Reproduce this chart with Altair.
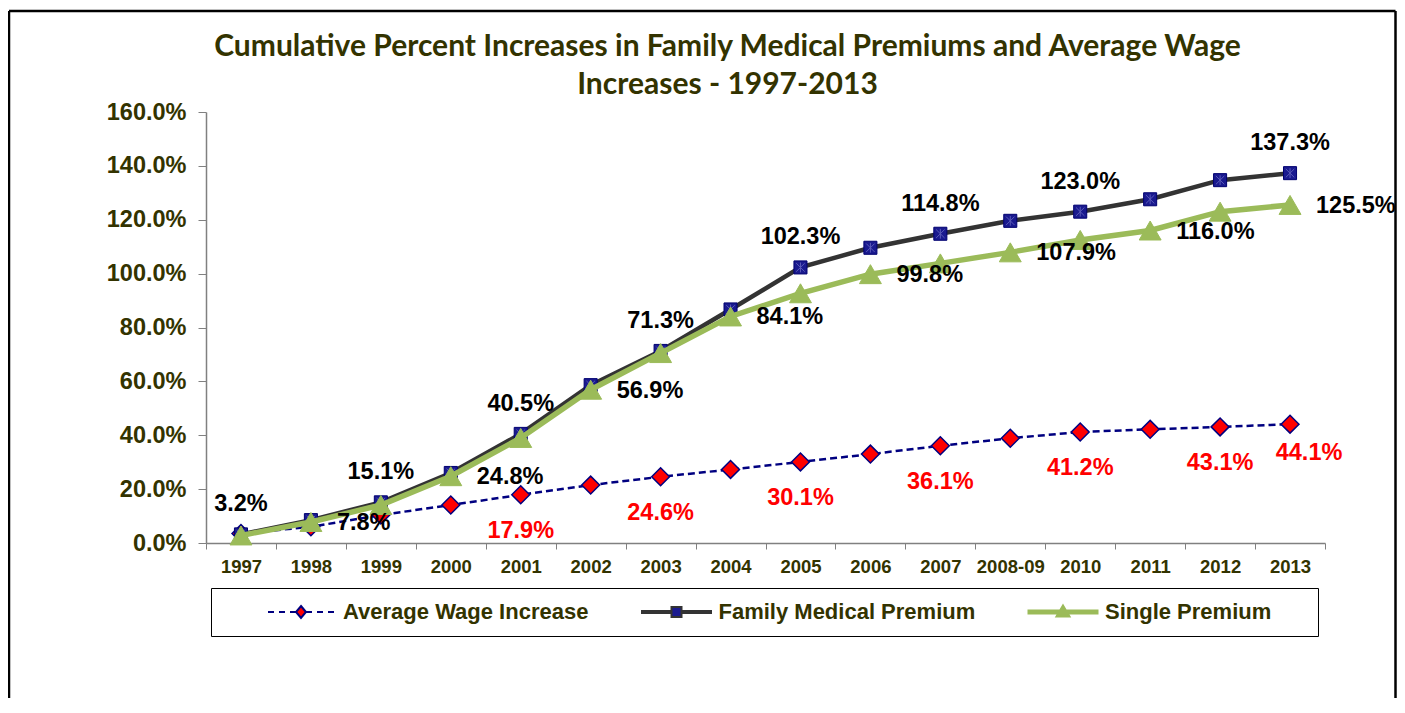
import altair as alt
import pandas as pd

years = ["1997", "1998", "1999", "2000", "2001", "2002", "2003", "2004", "2005",
         "2006", "2007", "2008-09", "2010", "2011", "2012", "2013"]
wage = [3.5, 6.0, 10.4, 14.1, 17.9, 21.5, 24.6, 27.3, 30.1, 33.0, 36.1, 38.9, 41.2, 42.2, 43.1, 44.1]
family = [3.2, 8.5, 15.1, 26.0, 40.5, 58.6, 71.3, 86.7, 102.3, 109.6, 114.8, 119.6, 123.0, 127.6, 134.7, 137.3]
single = [2.8, 7.8, 14.1, 24.8, 39.0, 56.9, 70.5, 84.1, 92.7, 99.8, 103.8, 107.9, 112.5, 116.0, 123.0, 125.5]

series_names = ["Average Wage Increase", "Family Medical Premium", "Single Premium"]
wage_label_years = ["2001", "2003", "2005", "2007", "2010", "2012", "2013"]
family_label_years = ["1997", "1999", "2001", "2003", "2005", "2007", "2010", "2013"]
single_label_years = ["1998", "2000", "2002", "2004", "2006", "2008-09", "2011", "2013"]
y_ticks = [0, 20, 40, 60, 80, 100, 120, 140, 160]
title_lines = ["Cumulative Percent Increases in Family Medical Premiums and Average Wage",
               "Increases - 1997-2013"]

rows = []
for name, vals, labs in zip(series_names, [wage, family, single],
                            [wage_label_years, family_label_years, single_label_years]):
    for yr, v in zip(years, vals):
        rows.append({"year": yr, "series": name, "value": v, "show": yr in labs})
df = pd.DataFrame(rows)

OLIVE = "#333300"
FONT = "Liberation Sans"

x_enc = alt.X("year:N", sort=years,
              scale=alt.Scale(type="band", paddingInner=0, paddingOuter=0),
              axis=alt.Axis(title=None, labelAngle=0, tickBand="extent", tickSize=6,
                            labelPadding=8, labelFont=FONT, labelFontSize=18.5,
                            labelFontWeight="bold", labelColor=OLIVE, domainColor="#808080",
                            tickColor="#808080", domainWidth=1.5, grid=False))
y_enc = alt.Y("value:Q", scale=alt.Scale(domain=[0, 160], nice=False),
              axis=alt.Axis(title=None, values=y_ticks, tickSize=8, labelPadding=12,
                            labelExpr="format(datum.value, '.1f') + '%'",
                            labelFont=FONT, labelFontSize=23.5, labelFontWeight="bold",
                            labelColor=OLIVE, domainColor="#808080", tickColor="#808080",
                            domainWidth=1.5, grid=False))

base = alt.Chart(df).encode(x=x_enc, y=y_enc)


def only(name):
    return base.transform_filter(alt.datum.series == name)


wage_line = only(series_names[0]).mark_line(color="#000080", strokeWidth=2.5, strokeDash=[7, 4])
wage_pts = only(series_names[0]).mark_point(shape="diamond", filled=True, fill="#FF0000",
                                            stroke="#000080", strokeWidth=1.5, size=320, opacity=1)
fam_line = only(series_names[1]).mark_line(color="#333333", strokeWidth=4.5)
fam_pts = only(series_names[1]).mark_point(shape="square", filled=True, fill="#1A1A8F",
                                           stroke="#000070", strokeWidth=1, size=170, opacity=1)
fam_star = only(series_names[1]).mark_point(
    shape="M-0.65,-0.65L0.65,0.65M-0.65,0.65L0.65,-0.65M0,-0.75L0,0.75",
    filled=False, stroke="#5A5AB8", strokeWidth=1, size=170, opacity=1)
sin_line = only(series_names[2]).mark_line(color="#9BBB59", strokeWidth=5.5)
sin_pts = only(series_names[2]).mark_point(shape="triangle-up", filled=True, fill="#9BBB59",
                                           stroke="#9BBB59", strokeWidth=1, size=480, opacity=1)


def labels(expr):
    return (base.transform_filter(expr)
            .transform_calculate(label="format(datum.value, '.1f') + '%'"))


text_style = dict(font=FONT, fontSize=23.5, fontWeight="bold")
fam_txt = labels(f"datum.series == '{series_names[1]}' && datum.show").mark_text(
    align="center", baseline="alphabetic", dy=-23, color="#000000", **text_style).encode(text="label:N")
sin_txt = labels(f"datum.series == '{series_names[2]}' && datum.show").mark_text(
    align="left", baseline="middle", dx=26, dy=1, color="#000000", **text_style).encode(text="label:N")
wage_txt = labels(f"datum.series == '{series_names[0]}' && datum.show && datum.year != '{years[-1]}'").mark_text(
    align="center", baseline="alphabetic", dy=43, color="#FF0000", **text_style).encode(text="label:N")
wage_txt_last = labels(f"datum.series == '{series_names[0]}' && datum.year == '{years[-1]}'").mark_text(
    align="center", baseline="alphabetic", dx=19, dy=36, color="#FF0000", **text_style).encode(text="label:N")

# legend symbols: line + marker drawn as custom paths (unit = sqrt(size)/2 px)
legend_paths = [
    "M-16,0M47.6,0M-6.6,0L-5.4,0M-4.4,0L-3.2,0M-2.2,0L-1.1,0M1.1,0L2.2,0M3.2,0L4.4,0M5.4,0L6.6,0"
    "M0,-1.2L1,0L0,1.2L-1,0Z",
    "M-16,0M47.6,0M-7.1,-0.2L-1,-0.2M-7.1,0L-1,0M-7.1,0.2L-1,0.2"
    "M1,-0.2L7.1,-0.2M1,0L7.1,0M1,0.2L7.1,0.2M-1,-1L1,-1L1,1L-1,1Z",
    "M-16,0M47.6,0M-7.1,-0.3L7.1,-0.3M-7.1,0L7.1,0M-7.1,0.3L7.1,0.3M0,-1.3L1.3,0.9L-1.3,0.9Z",
]
legend_fills = ["#FF0000", "#1A1A8F", "#9BBB59"]
legend_strokes = ["#000080", "#333333", "#9BBB59"]

leg = alt.Legend(title=None, orient="none", legendX=5, legendY=476, direction="horizontal",
                 strokeColor="#000000", fillColor="#FFFFFF", padding=13, columnPadding=3.5,
                 symbolSize=100, symbolStrokeWidth=2, symbolOffset=66, labelOffset=31,
                 labelFont=FONT, labelFontSize=22, labelFontWeight="bold", labelColor=OLIVE,
                 labelLimit=500)

legend_layer = base.transform_filter("datum.value < -1000").mark_point(
    filled=True, size=100, strokeWidth=2, opacity=1).encode(
    shape=alt.Shape("series:N", scale=alt.Scale(domain=series_names, range=legend_paths), legend=leg),
    fill=alt.Fill("series:N", scale=alt.Scale(domain=series_names, range=legend_fills), legend=leg),
    stroke=alt.Stroke("series:N", scale=alt.Scale(domain=series_names, range=legend_strokes), legend=leg),
)

frame_df = pd.DataFrame({"k": [0]})
frame = alt.Chart(frame_df)
left_edge = frame.mark_rule(color="#000000", strokeWidth=2.5).encode(
    x=alt.value(-197), y=alt.value(-101), y2=alt.value(586))
right_edge = frame.mark_rule(color="#000000", strokeWidth=2.5).encode(
    x=alt.value(1189.5), y=alt.value(-101), y2=alt.value(586))
top_edge = frame.mark_rule(color="#000000", strokeWidth=2.5).encode(
    x=alt.value(-197), x2=alt.value(1189.5), y=alt.value(-101))

chart = alt.layer(
    wage_line, wage_pts, fam_line, fam_pts, fam_star, sin_line, sin_pts,
    fam_txt, sin_txt, wage_txt, wage_txt_last, legend_layer, left_edge, right_edge, top_edge,
).properties(
    width=1119, height=431,
    padding={"left": 198, "top": 104, "right": 72, "bottom": 155},
    autosize=alt.AutoSizeParams(type="none"),
    title=alt.TitleParams(text=title_lines, font="Lato", fontSize=30, fontWeight="bold",
                          color=OLIVE, anchor="middle", dx=-38, dy=122, offset=8, lineHeight=38,
                          baseline="alphabetic"),
).configure_view(stroke=None)

chart.save("out.html", embed_options={"renderer": "svg", "actions": False})
